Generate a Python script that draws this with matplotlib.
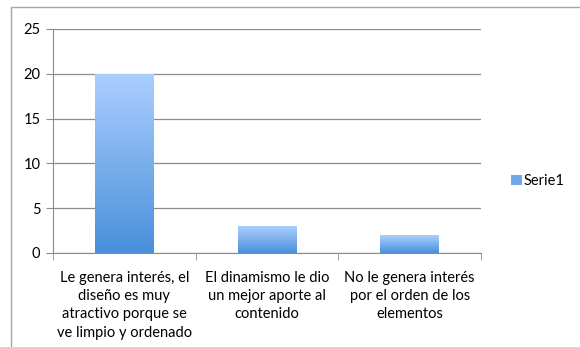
import numpy as np
import matplotlib.pyplot as plt
from matplotlib.patches import Rectangle
from matplotlib.colors import LinearSegmentedColormap

categorias = [
    "Le genera interés, el\ndiseño es muy\natractivo porque se\nve limpio y ordenado",
    "El dinamismo le dio\nun mejor aporte al\ncontenido",
    "No le genera interés\npor el orden de los\nelementos",
]
valores = [20, 3, 2]
serie = "Serie1"

plt.rcParams['font.family'] = ['Lato', 'DejaVu Sans']

fig = plt.figure(figsize=(5.8, 3.47), dpi=100)
# marco exterior del grafico (cortado por el borde de la imagen)
fig.patches.append(Rectangle((11 / 580, -0.1), 1.2, 1 - 7 / 347 + 0.1,
                             transform=fig.transFigure, fill=False,
                             edgecolor='#a6a6a6', linewidth=1.0))

ax = fig.add_axes([53 / 580, 1 - 253 / 347, (481 - 53) / 580, (253 - 29) / 347])
x = np.arange(len(valores))
ancho = 0.41

degradado = LinearSegmentedColormap.from_list('azul', ['#4a8fdb', '#abcffe'])
grad = np.linspace(0, 1, 256).reshape(-1, 1)
barras = ax.bar(x, valores, width=ancho, color='none', edgecolor='none', zorder=2)
for b in barras:
    x0, y0 = b.get_x(), b.get_y()
    im = ax.imshow(grad, cmap=degradado, origin='lower', aspect='auto',
                   extent=[x0, x0 + b.get_width(), y0, y0 + b.get_height()], zorder=2)
    im.set_clip_path(b)

ax.set_xlim(-0.5, len(valores) - 0.5)
ax.set_ylim(0, 25)
ax.set_yticks(range(0, 26, 5))
ax.yaxis.grid(True, color='#8c8c8c', linewidth=0.9)
ax.set_axisbelow(True)
for s in ['top', 'right']:
    ax.spines[s].set_visible(False)
ax.spines['left'].set_color('#8c8c8c')
ax.spines['bottom'].set_color('#8c8c8c')
ax.tick_params(axis='y', length=5, color='#8c8c8c', labelsize=10.5, pad=4)
ax.set_xticks(x)
ax.set_xticklabels(categorias, fontsize=10.5, linespacing=1.38)
ax.tick_params(axis='x', length=0, pad=13)
ax.set_xticks(np.arange(-0.5, len(valores), 1), minor=True)
ax.tick_params(axis='x', which='minor', length=5, color='#8c8c8c')

# leyenda
h = Rectangle((0, 0), 1, 1, facecolor='#6fa8e8', edgecolor='none')
fig.legend([h], [serie], loc='center left', bbox_to_anchor=(504 / 580, 1 - 181 / 347),
           frameon=False, fontsize=10.5, handlelength=0.7, handleheight=0.7,
           handletextpad=0.15, borderpad=0)

fig.savefig('out.png', dpi=100)
